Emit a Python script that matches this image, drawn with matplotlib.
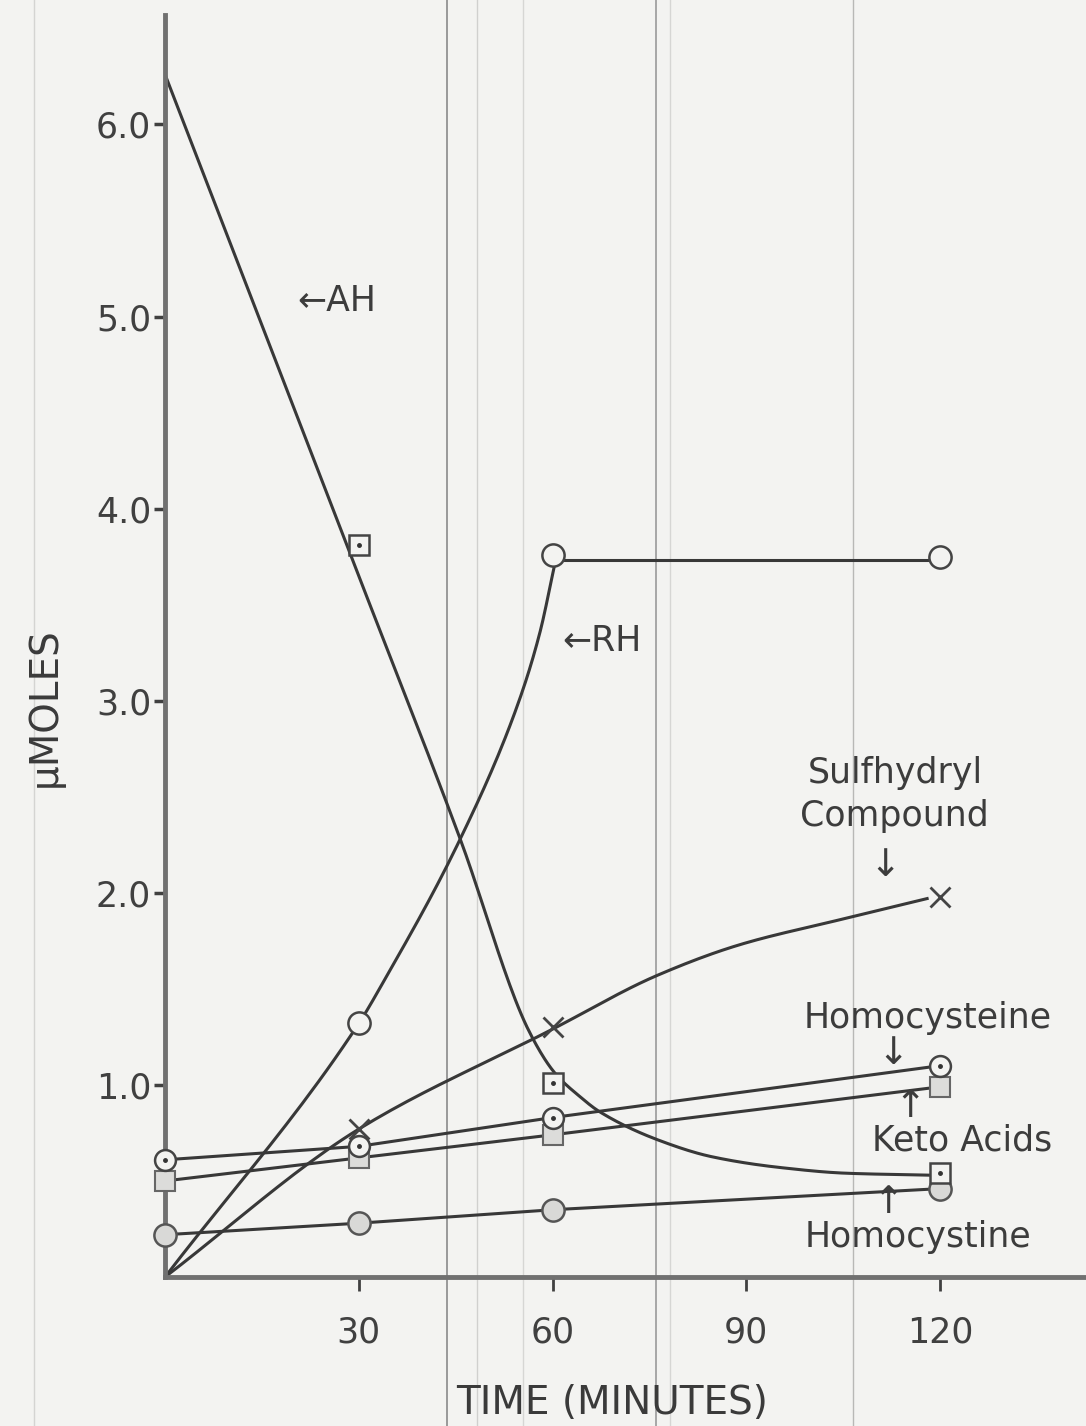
import numpy as np
import matplotlib.pyplot as plt
from matplotlib.lines import Line2D

# measured points (time in minutes, amounts in micromoles)
t_pts = [0, 30, 60, 120]
ah_t = [30, 60, 120]
ah_v = [3.81, 1.01, 0.54]
rh_v = [0.0, 1.32, 3.76, 3.75]
sh_v = [0.0, 0.77, 1.30, 1.98]
hcys_v = [0.61, 0.68, 0.83, 1.10]
keto_v = [0.50, 0.62, 0.74, 0.99]
hcyst_v = [0.22, 0.28, 0.35, 0.46]

# hand drawn curves through the points
ah_line_t = [0, 28.6, 45.7, 56.5, 60.4, 64.2, 67.3, 76.6, 84.8, 95.2, 105.6, 118.4]
ah_line_v = [6.26, 3.77, 2.28, 1.27, 1.06, 0.94, 0.86, 0.71, 0.625, 0.57, 0.54, 0.53]
rh_line_t = [0, 30, 33.7, 45.7, 54.5, 58, 60.4]
rh_line_v = [0.0, 1.32, 1.53, 2.28, 2.97, 3.35, 3.72]
rh_flat_t = [60.4, 120]
rh_flat_v = [3.73, 3.73]
sh_line_t = [0, 30, 60, 76.2, 89, 104.5, 118]
sh_line_v = [0.0, 0.77, 1.29, 1.57, 1.73, 1.86, 1.97]

yticks = [1.0, 2.0, 3.0, 4.0, 5.0, 6.0]
xticks = [30, 60, 90, 120]

paper = '#f3f3f1'
ink = '#383838'


def smooth(t, v, n=25):
    # monotone cubic (Fritsch-Carlson) through the traced points
    t = np.asarray(t, float)
    v = np.asarray(v, float)
    h = np.diff(t)
    d = np.diff(v) / h
    m = np.zeros_like(v)
    m[0], m[-1] = d[0], d[-1]
    for k in range(1, len(t) - 1):
        if d[k - 1] * d[k] > 0:
            w1 = 2 * h[k] + h[k - 1]
            w2 = h[k] + 2 * h[k - 1]
            m[k] = (w1 + w2) / (w1 / d[k - 1] + w2 / d[k])
    xs, ys = [], []
    s = np.linspace(0, 1, n)
    for i in range(len(t) - 1):
        h00 = 2 * s**3 - 3 * s**2 + 1
        h10 = s**3 - 2 * s**2 + s
        h01 = -2 * s**3 + 3 * s**2
        h11 = s**3 - s**2
        xs.append(t[i] + s * h[i])
        ys.append(h00 * v[i] + h10 * h[i] * m[i] + h01 * v[i + 1] + h11 * h[i] * m[i + 1])
    return np.concatenate(xs), np.concatenate(ys)


fig = plt.figure(figsize=(10.86, 14.26), dpi=100, facecolor=paper)
ax = fig.add_axes([0.152, 0.1045, 0.848, 0.885])
ax.patch.set_alpha(0)

# faint vertical lines in the paper
for xp, c, w in [(34, '#d4d4d2', 1.0), (447, '#8a8a8a', 1.2), (477, '#d0d0ce', 1.0),
                 (523, '#d6d6d4', 1.0), (656, '#9a9a9a', 1.2), (670, '#d6d6d4', 1.0),
                 (853, '#b8b8b6', 1.0)]:
    fig.add_artist(Line2D([xp / 1086, xp / 1086], [0, 1], color=c, lw=w, zorder=0))

lw = 2.2
x, y = smooth(ah_line_t, ah_line_v)
ax.plot(x, y, color=ink, lw=lw, zorder=2)
x, y = smooth(rh_line_t, rh_line_v)
ax.plot(x, y, color=ink, lw=lw, zorder=2)
ax.plot(rh_flat_t, rh_flat_v, color=ink, lw=lw, zorder=2)
x, y = smooth(sh_line_t, sh_line_v)
ax.plot(x, y, color=ink, lw=lw, zorder=2)
ax.plot(t_pts, hcys_v, color=ink, lw=lw, zorder=2)
ax.plot(t_pts, keto_v, color=ink, lw=lw, zorder=2)
ax.plot(t_pts, hcyst_v, color=ink, lw=lw, zorder=2)

# markers
ax.plot(t_pts, hcyst_v, 'o', ms=16, mfc='#d9d9d7', mec='#555555', mew=1.8, zorder=3, clip_on=False)
ax.plot(t_pts, keto_v, 's', ms=15, mfc='#dcdcda', mec='#666666', mew=1.5, zorder=4, clip_on=False)
ax.plot(t_pts, hcys_v, 'o', ms=15, mfc=paper, mec='#444444', mew=1.8, zorder=5, clip_on=False)
ax.plot(t_pts, hcys_v, '.', ms=5, color='#333333', zorder=6, clip_on=False)
ax.plot(ah_t, ah_v, 's', ms=15, mfc=paper, mec='#444444', mew=1.8, zorder=7)
ax.plot(ah_t, ah_v, '.', ms=5, color='#333333', zorder=8)
ax.plot(t_pts[1:], rh_v[1:], 'o', ms=16, mfc=paper, mec='#444444', mew=1.8, zorder=5)
ax.plot(t_pts[1:], sh_v[1:], 'x', ms=15, color='#444444', mew=2.0, zorder=5)

# curve labels
txt = dict(color='#3c3c3c', fontsize=25, ha='center', va='center')
arr = dict(color='#3c3c3c', fontsize=27, ha='center', va='center')
ax.text(26.6, 5.08, '←AH', **txt)
ax.text(67.6, 3.31, '←RH', **txt)
ax.text(113, 2.625, 'Sulfhydryl', **txt)
ax.text(113, 2.40, 'Compound', **txt)
ax.text(111.5, 2.14, '↓', **arr)
ax.text(118.1, 1.35, 'Homocysteine', **txt)
ax.text(112.7, 1.16, '↓', **arr)
ax.text(115.3, 0.885, '↑', **arr)
ax.text(123.4, 0.71, 'Keto Acids', **txt)
ax.text(111.9, 0.385, '↑', **arr)
ax.text(116.6, 0.21, 'Homocystine', **txt)

ax.set_xlim(0, 142.6)
ax.set_ylim(0, 6.57)
ax.set_xticks(xticks)
ax.set_xticklabels([str(v) for v in xticks])
ax.set_yticks(yticks)
ax.set_yticklabels(['%.1f' % v for v in yticks])
ax.tick_params(axis='y', length=8, width=2.5, pad=2, labelsize=25, colors='#404040')
ax.tick_params(axis='x', length=10, width=2.0, pad=18, labelsize=25, colors='#404040')

for s in ['top', 'right']:
    ax.spines[s].set_visible(False)
for s in ['left', 'bottom']:
    ax.spines[s].set_linewidth(3.5)
    ax.spines[s].set_color('#707070')

fig.text(612 / 1086, 1 - 1403 / 1426, 'TIME (MINUTES)', fontsize=28, color='#3a3a3a',
         ha='center', va='center')
fig.text(45 / 1086, 1 - 707 / 1426, 'μMOLES', fontsize=28, color='#3a3a3a',
         ha='center', va='center', rotation=90)

plt.savefig('out.png', dpi=100, facecolor=paper)
